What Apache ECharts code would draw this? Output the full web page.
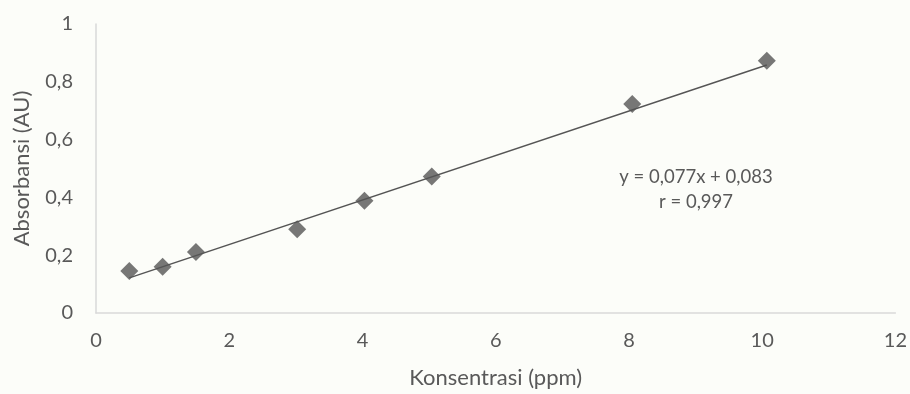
<!DOCTYPE html>
<html>
<head>
<meta charset="utf-8">
<script src="https://cdn.jsdelivr.net/npm/echarts@6/dist/echarts.min.js"></script>
<style>
  html, body { margin: 0; padding: 0; background: #fcfdf9; }
  #chart { width: 910px; height: 394px; }
</style>
</head>
<body>
<div id="chart"></div>
<script>
// Standard curve: concentration (ppm) vs absorbance (AU)
const konsentrasi = [0.5, 1, 1.5, 3.02, 4.03, 5.04, 8.05, 10.07];
const absorbansi  = [0.145, 0.160, 0.211, 0.290, 0.388, 0.472, 0.723, 0.873];

// Linear regression reported on the chart
const slope = 0.077;
const intercept = 0.083;
const persamaan = 'y = 0,077x + 0,083';
const korelasi = 'r = 0,997';

const xTicks = { min: 0, max: 12, interval: 2 };
const yTicks = { min: 0, max: 1, interval: 0.2 };

const textColor = '#595959';
const markColor = '#555555';
const fontFamily = 'Lato, "Open Sans", sans-serif';

const points = konsentrasi.map((x, i) => [x, absorbansi[i]]);
const xStart = Math.min(...konsentrasi);
const xEnd = Math.max(...konsentrasi);
const trend = [
  [xStart, slope * xStart + intercept],
  [xEnd, slope * xEnd + intercept]
];

const fmt = v => String(Math.round(v * 10) / 10).replace('.', ',');

const chart = echarts.init(document.getElementById('chart'), null, { renderer: 'canvas' });
chart.setOption({
  backgroundColor: '#fcfdf9',
  animation: false,
  grid: { left: 96, right: 14, top: 24, bottom: 80, containLabel: false },
  xAxis: {
    type: 'value',
    min: xTicks.min, max: xTicks.max, interval: xTicks.interval,
    name: 'Konsentrasi (ppm)',
    nameLocation: 'middle',
    nameGap: 54,
    nameTextStyle: { color: textColor, fontSize: 22, fontFamily },
    axisLine: { show: true, lineStyle: { color: '#d9d9d9', width: 1.5 } },
    axisTick: { show: false },
    splitLine: { show: false },
    axisLabel: { color: textColor, fontSize: 20, fontFamily, margin: 18, formatter: fmt }
  },
  yAxis: {
    type: 'value',
    min: yTicks.min, max: yTicks.max, interval: yTicks.interval,
    name: 'Absorbansi (AU)',
    nameLocation: 'middle',
    nameGap: 63,
    nameTextStyle: { color: textColor, fontSize: 22, fontFamily },
    axisLine: { show: true, lineStyle: { color: '#d9d9d9', width: 1.5 } },
    axisTick: { show: false },
    splitLine: { show: false },
    axisLabel: { color: textColor, fontSize: 20, fontFamily, margin: 23, formatter: fmt }
  },
  series: [
    {
      name: 'Linear',
      type: 'line',
      data: trend,
      symbol: 'none',
      lineStyle: { color: markColor, width: 1.5 },
      silent: true,
      z: 2
    },
    {
      name: 'Absorbansi',
      type: 'scatter',
      data: points,
      symbol: 'diamond',
      symbolSize: [18, 18],
      itemStyle: { color: markColor },
      z: 3
    }
  ],
  graphic: [
    {
      type: 'text',
      x: 696, y: 189.5,
      style: {
        text: persamaan + '\n' + korelasi,
        fill: textColor,
        font: '18.5px ' + fontFamily,
        align: 'center',
        verticalAlign: 'middle',
        lineHeight: 25
      }
    }
  ]
});
</script>
</body>
</html>
